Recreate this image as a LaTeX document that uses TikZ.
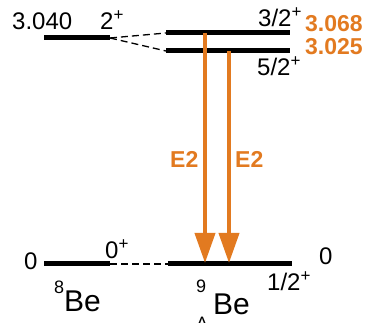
\documentclass[tikz,border=0pt]{standalone}
\usepackage{fontspec}
\setmainfont{Liberation Sans}
\usetikzlibrary{arrows.meta}
\definecolor{naranja}{RGB}{226,122,32}
\newcommand{\paridad}{\raisebox{9pt}{\fontsize{17}{17}\selectfont +}}

\begin{document}
\begin{tikzpicture}[
    x=1pt, y=-1pt,
    nivel/.style={line width=5pt},
    enlace/.style={line width=1.3pt, dash pattern=on 7pt off 4pt},
    trans/.style={
        draw=naranja,
        line width=4pt,
        -{Triangle[width=20pt,length=30pt]}
    },
    etiq/.style={anchor=base west, inner sep=0pt, font=\fontsize{24}{26}\selectfont},
    energia/.style={etiq, text=naranja, font=\fontsize{23}{26}\selectfont\bfseries},
    nucleo/.style={anchor=base west, inner sep=0pt, font=\fontsize{30}{32}\selectfont}
]
\useasboundingbox (0,0) rectangle (370,323);

\coordinate (be8exI) at (44,38);
\coordinate (be8exD) at (110,38);
\coordinate (be8gsI) at (44,264);
\coordinate (be8gsD) at (110,264);
\coordinate (tresI) at (166,33);
\coordinate (tresD) at (290,33);
\coordinate (cincoI) at (166,51);
\coordinate (cincoD) at (290,51);
\coordinate (fundI) at (168,264);
\coordinate (fundD) at (292,264);
\coordinate (origenA) at (205,33);
\coordinate (origenB) at (229,51);
\coordinate (destinoA) at (205,263);
\coordinate (destinoB) at (229,263);

\draw[nivel] (be8exI) -- (be8exD);
\draw[nivel] (be8gsI) -- (be8gsD);
\draw[nivel] (tresI) -- (tresD);
\draw[nivel] (cincoI) -- (cincoD);
\draw[nivel] (fundI) -- (fundD);

\draw[enlace] (be8exD) -- (tresI);
\draw[enlace] (be8exD) -- (cincoI);
\draw[enlace] (be8gsD) -- (fundI);

\draw[trans] (origenA) -- (destinoA);
\draw[trans] (origenB) -- (destinoB);

\node[etiq] (e3040) at (12,30) {3.040};
\node[etiq] (j2) at (100,30) {2\paridad};
\node[etiq] (j32) at (258,27) {3/2\paridad};
\node[energia] (e3068) at (305,32) {3.068};
\node[energia] (e3025) at (305,55) {3.025};
\node[etiq] (j52) at (257,76) {5/2\paridad};
\node[energia] (e2a) at (170,168) {E2};
\node[energia] (e2b) at (235,168) {E2};
\node[etiq] (e0izq) at (24,270) {0};
\node[etiq] (j0) at (105,259) {0\paridad};
\node[etiq] (e0der) at (319,265) {0};
\node[etiq] (j12) at (267,291) {1/2\paridad};

\node[nucleo] (be8) at (54,312)
{\raisebox{18pt}{\fontsize{18}{18}\selectfont 8}Be};
\node[nucleo] (be9) at (196,315)
{\rlap{\raisebox{22pt}{\fontsize{18}{18}\selectfont 9}}\raisebox{-15pt}{\fontsize{18}{18}\selectfont Λ}\hspace{5pt}Be};

\end{tikzpicture}
\end{document}
